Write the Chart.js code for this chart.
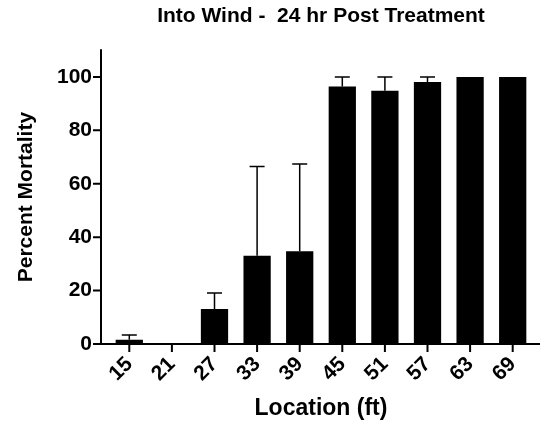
<!DOCTYPE html>
<html lang="en">
<head>
    <meta charset="UTF-8">
    <title>Into Wind - 24 hr Post Treatment</title>
    <style>
        body {
            margin: 0;
            background: #fff;
        }
        #chart-container {
            width: 544px;
            height: 424px;
        }
    </style>
    <script src="https://cdn.jsdelivr.net/npm/chart.js"></script>
</head>
<body>
    <div id="chart-container">
        <canvas id="graph" width="544" height="424"></canvas>
    </div>
    <script>
        // data
        const locations = ['15', '21', '27', '33', '39', '45', '51', '57', '63', '69'];
        const mortality = [1.6, 0, 13.1, 33.0, 34.7, 96.4, 94.8, 98.1, 100, 100];
        const errorUp = [1.8, 0, 6.0, 33.5, 32.7, 3.6, 5.2, 1.9, 0, 0];
        const yTicks = [0, 20, 40, 60, 80, 100];

        const FONT = '"Liberation Sans", Arial, Helvetica, sans-serif';

        // upward-only error bars with caps
        const errorBars = {
            id: 'errorBars',
            afterDatasetsDraw(chart) {
                const ctx = chart.ctx;
                const meta = chart.getDatasetMeta(0);
                const y = chart.scales.y;
                ctx.save();
                ctx.strokeStyle = '#000';
                ctx.lineWidth = 1.5;
                meta.data.forEach((bar, i) => {
                    if (!errorUp[i]) return;
                    const top = y.getPixelForValue(mortality[i] + errorUp[i]);
                    const base = y.getPixelForValue(mortality[i]);
                    ctx.beginPath();
                    ctx.moveTo(bar.x, base);
                    ctx.lineTo(bar.x, top);
                    ctx.moveTo(bar.x - 7.5, top);
                    ctx.lineTo(bar.x + 7.5, top);
                    ctx.stroke();
                });
                ctx.restore();
            }
        };

        // GraphPad style axes, detached a little from the bars
        const axesLines = {
            id: 'axesLines',
            afterDraw(chart) {
                const ctx = chart.ctx;
                const area = chart.chartArea;
                const x = chart.scales.x;
                const y = chart.scales.y;
                const axisX = area.left - 7;
                const axisY = y.getPixelForValue(0);
                ctx.save();
                ctx.strokeStyle = '#000';
                ctx.lineWidth = 2;
                ctx.beginPath();
                ctx.moveTo(axisX, area.top - 1);
                ctx.lineTo(axisX, axisY);
                ctx.moveTo(axisX - 1, axisY);
                ctx.lineTo(area.right + 6, axisY);
                yTicks.forEach(v => {
                    const py = y.getPixelForValue(v);
                    ctx.moveTo(axisX - 8, py);
                    ctx.lineTo(axisX, py);
                });
                locations.forEach((c, i) => {
                    const px = x.getPixelForValue(i);
                    ctx.moveTo(px, axisY);
                    ctx.lineTo(px, axisY + 8);
                });
                ctx.stroke();
                ctx.restore();
            }
        };

        const ctx = document.getElementById('graph').getContext('2d');
        new Chart(ctx, {
            type: 'bar',
            data: {
                labels: locations,
                datasets: [{
                    data: mortality,
                    backgroundColor: '#000',
                    borderWidth: 0,
                    barPercentage: 0.64,
                    categoryPercentage: 1.0
                }]
            },
            options: {
                responsive: false,
                animation: false,
                devicePixelRatio: 1,
                layout: {
                    padding: { left: 0, right: 10, top: 0, bottom: 0 }
                },
                scales: {
                    x: {
                        grid: { display: false, drawTicks: false },
                        border: { display: false },
                        ticks: {
                            color: '#000',
                            autoSkip: false,
                            minRotation: 45,
                            maxRotation: 45,
                            padding: 8,
                            font: { family: FONT, size: 21, weight: 'bold' }
                        },
                        title: {
                            display: true,
                            text: 'Location (ft)',
                            color: '#000',
                            padding: { top: 0, bottom: 2 },
                            font: { family: FONT, size: 23, weight: 'bold' }
                        },
                        afterFit(scale) { scale.height = 80; }
                    },
                    y: {
                        min: 0,
                        max: 110,
                        grid: { display: false, drawTicks: false },
                        border: { display: false },
                        ticks: {
                            color: '#000',
                            stepSize: 20,
                            includeBounds: false,
                            padding: 16,
                            font: { family: FONT, size: 21, weight: 'bold' }
                        },
                        title: {
                            display: true,
                            text: 'Percent Mortality',
                            color: '#000',
                            padding: { top: 14, bottom: 0 },
                            font: { family: FONT, size: 21, weight: 'bold' }
                        },
                        afterFit(scale) { scale.width = 108; }
                    }
                },
                plugins: {
                    legend: { display: false },
                    tooltip: { enabled: false },
                    title: {
                        display: true,
                        fullSize: false,
                        text: 'Into Wind -  24 hr Post Treatment',
                        color: '#000',
                        padding: { top: 4, bottom: 21 },
                        font: { family: FONT, size: 21, weight: 'bold' }
                    }
                }
            },
            plugins: [errorBars, axesLines]
        });
    </script>
</body>
</html>
